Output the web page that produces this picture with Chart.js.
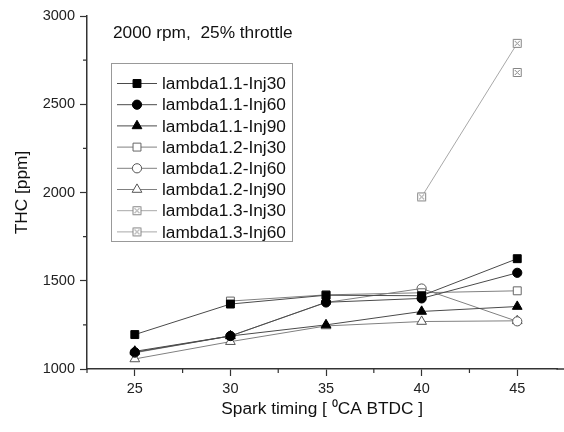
<!DOCTYPE html>
<html>
<head>
<meta charset="utf-8">
<script src="https://cdn.jsdelivr.net/npm/chart.js@4.4.1/dist/chart.umd.min.js"></script>
<style>
  html, body { margin: 0; padding: 0; background: #fff; }
</style>
</head>
<body>
<canvas id="chart" width="564" height="432"></canvas>
<script>
// spark timing [deg CA BTDC]
const sparkTiming = [25, 30, 35, 40, 45];

// THC [ppm]
const l11Inj30 = [1195, 1368, 1418, 1415, 1625];
const l11Inj60 = [1095, 1187, 1378, 1400, 1545];
const l11Inj90 = [1100, 1187, 1250, 1326, 1354];
const l12Inj30 = [null, 1385, 1420, 1432, 1443];
const l12Inj60 = [1092, 1187, 1377, 1456, 1270];
const l12Inj90 = [1057, 1155, 1244, 1269, 1273];
const l13Inj30 = [null, null, null, 1975, 2845];
const l13Inj60 = [null, null, null, null, 2680];

const seriesNames = [
  "lambda1.1-Inj30", "lambda1.1-Inj60", "lambda1.1-Inj90",
  "lambda1.2-Inj30", "lambda1.2-Inj60", "lambda1.2-Inj90",
  "lambda1.3-Inj30", "lambda1.3-Inj60"
];

const noteText = "2000 rpm,  25% throttle";
const FONT = "'Liberation Sans', Arial, sans-serif";

function crossMark(round) {
  const c = document.createElement("canvas");
  c.width = 11;
  c.height = 11;
  const g = c.getContext("2d");
  g.strokeStyle = "#858585";
  g.fillStyle = "#fff";
  g.lineWidth = 1;
  g.beginPath();
  if (round) g.arc(5.5, 5.5, 4.5, 0, Math.PI * 2);
  else g.rect(1.5, 1.5, 8, 8);
  g.fill();
  g.stroke();
  g.beginPath();
  g.moveTo(3, 3); g.lineTo(8, 8);
  g.moveTo(8, 3); g.lineTo(3, 8);
  g.stroke();
  return c;
}

function toPoints(vals) {
  return sparkTiming.map((x, i) => ({ x: x, y: vals[i] }));
}

function serie(i, vals, line, style, radius, fill, border) {
  return {
    label: seriesNames[i],
    data: toPoints(vals),
    borderColor: line,
    borderWidth: 1,
    pointStyle: style,
    pointRadius: radius,
    pointHoverRadius: radius,
    pointBackgroundColor: fill,
    pointBorderColor: border,
    pointBorderWidth: 1,
    spanGaps: false,
    tension: 0
  };
}

const datasets = [
  serie(0, l11Inj30, "#4a4a4a", "rect", 5.6, "#000", "#000"),
  serie(1, l11Inj60, "#4a4a4a", "circle", 4.6, "#000", "#000"),
  serie(2, l11Inj90, "#4a4a4a", "triangle", 5.6, "#000", "#000"),
  serie(3, l12Inj30, "#808080", "rect", 5.6, "#fff", "#666"),
  serie(4, l12Inj60, "#808080", "circle", 4.6, "#fff", "#555"),
  serie(5, l12Inj90, "#808080", "triangle", 5.6, "#fff", "#555"),
  serie(6, l13Inj30, "#a8a8a8", crossMark(false), 5, "#fff", "#8c8c8c"),
  serie(7, l13Inj60, "#a8a8a8", crossMark(false), 5, "#fff", "#8c8c8c")
];

// minor ticks, legend box and the note inside the plot
const extras = {
  id: "extras",
  afterDraw(chart) {
    const ctx = chart.ctx;
    const xs = chart.scales.x;
    const ys = chart.scales.y;
    ctx.save();
    ctx.strokeStyle = "#333";
    ctx.lineWidth = 1.5;
    ctx.beginPath();
    // axis line runs on to the edge of the figure
    ctx.moveTo(xs.right - 1, ys.bottom);
    ctx.lineTo(chart.width, ys.bottom);
    ctx.stroke();
    ctx.lineWidth = 1.2;
    ctx.beginPath();
    xs.ticks.filter(t => t.value % 5 !== 0).forEach(t => {
      const p = xs.getPixelForValue(t.value);
      ctx.moveTo(p, ys.bottom);
      ctx.lineTo(p, ys.bottom + 4);
    });
    ys.ticks.filter(t => t.value % 500 !== 0).forEach(t => {
      const p = ys.getPixelForValue(t.value);
      ctx.moveTo(xs.left, p);
      ctx.lineTo(xs.left - 4, p);
    });
    ctx.stroke();

    ctx.fillStyle = "#111";
    ctx.font = "17.3px " + FONT;
    ctx.textBaseline = "middle";
    ctx.textAlign = "left";
    ctx.fillText(noteText, 113, 33);

    // legend
    const bx = 111, by = 63, bw = 181, bh = 178;
    ctx.fillStyle = "#fff";
    ctx.fillRect(bx, by, bw, bh);
    ctx.strokeStyle = "#999";
    ctx.lineWidth = 1;
    ctx.strokeRect(bx + 0.5, by + 0.5, bw, bh);
    chart.data.datasets.forEach((ds, i) => {
      const y = 83.5 + i * 21.2;
      ctx.strokeStyle = ds.borderColor;
      ctx.lineWidth = 1;
      ctx.beginPath();
      ctx.moveTo(117, y);
      ctx.lineTo(157, y);
      ctx.stroke();
      ctx.fillStyle = ds.pointBackgroundColor;
      ctx.strokeStyle = ds.pointBorderColor;
      Chart.helpers.drawPoint(ctx, {
        pointStyle: ds.pointStyle,
        radius: ds.pointRadius,
        borderWidth: 1,
        rotation: 0
      }, 137, y);
      ctx.fillStyle = "#111";
      ctx.font = "17.3px " + FONT;
      ctx.fillText(ds.label, 162, y + 1);
    });
    ctx.restore();
  }
};

const ctx = document.getElementById("chart").getContext("2d");
const chart = new Chart(ctx, {
  type: "line",
  data: { datasets: datasets },
  options: {
    responsive: false,
    animation: false,
    events: [],
    layout: { padding: { top: 16, right: 0, left: 0, bottom: 0 } },
    plugins: { legend: { display: false }, tooltip: { enabled: false } },
    scales: {
      x: {
        type: "linear",
        min: 22.5,
        max: 47.1,
        afterBuildTicks(scale) {
          const t = [];
          for (let v = scale.min; v <= scale.max + 1e-9; v += 2.5) t.push({ value: v });
          scale.ticks = t;
        },
        afterFit(scale) { scale.height = 63; },
        border: { display: true, color: "#333", width: 1.5 },
        grid: {
          drawOnChartArea: false,
          drawTicks: true,
          tickLength: 7,
          tickWidth: 1.2,
          tickColor: c => (c.tick && c.tick.value % 5 === 0 ? "#333" : "rgba(0,0,0,0)")
        },
        ticks: {
          autoSkip: false,
          maxRotation: 0,
          padding: 4,
          color: "#222",
          font: { family: FONT, size: 14.5 },
          callback: v => (v % 5 === 0 ? String(v) : "")
        },
        title: {
          display: true,
          text: "Spark timing [ \u2070CA BTDC ]",
          color: "#111",
          font: { family: FONT, size: 17.3 },
          padding: { top: 0, bottom: 12 }
        }
      },
      y: {
        min: 1000,
        max: 3000,
        afterFit(scale) { scale.width = 87; },
        border: { display: true, color: "#333", width: 1.5 },
        grid: {
          drawOnChartArea: false,
          drawTicks: true,
          tickLength: 7,
          tickWidth: 1.2,
          tickColor: c => (c.tick && c.tick.value % 500 === 0 ? "#333" : "rgba(0,0,0,0)")
        },
        ticks: {
          stepSize: 250,
          autoSkip: false,
          padding: 5,
          color: "#222",
          font: { family: FONT, size: 14.5 },
          callback: v => (v % 500 === 0 ? String(v) : "")
        },
        title: {
          display: true,
          text: "THC [ppm]",
          color: "#111",
          font: { family: FONT, size: 17.3 },
          padding: { top: 12, bottom: 0 }
        }
      }
    }
  },
  plugins: [extras]
});
</script>
</body>
</html>
